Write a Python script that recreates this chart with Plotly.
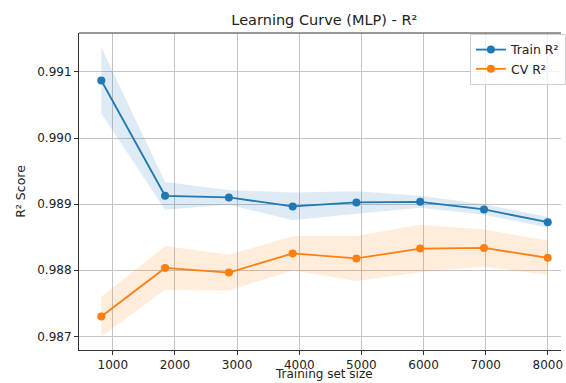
import plotly.graph_objects as go

# Learning-curve results for the MLP regressor
train_sizes = [815, 1841, 2868, 3894, 4920, 5946, 6973, 7999]
train_mean = [0.99087, 0.989126, 0.989102, 0.988965, 0.989026, 0.989035, 0.988919, 0.988726]
train_std = [0.00050, 0.00021, 0.00011, 0.00021, 0.00017, 0.00009, 0.00008, 0.00008]
cv_mean = [0.987299, 0.988035, 0.987965, 0.988254, 0.988178, 0.988328, 0.988337, 0.988188]
cv_std = [0.00030, 0.00033, 0.00027, 0.00026, 0.00034, 0.00036, 0.00028, 0.00026]

x_ticks = [1000, 2000, 3000, 4000, 5000, 6000, 7000, 8000]
y_ticks = [0.987, 0.988, 0.989, 0.990, 0.991]

BLUE = "#1f77b4"
ORANGE = "#ff7f0e"
FONT = "DejaVu Sans"
PLOT_H = 383 - 33 - 33  # height of the plotting area in px


def band(sizes, mean, std):
    upper = [m + s for m, s in zip(mean, std)]
    lower = [m - s for m, s in zip(mean, std)]
    return list(sizes) + list(sizes)[::-1], upper + lower[::-1]


fig = go.Figure()

bx, by = band(train_sizes, train_mean, train_std)
fig.add_trace(go.Scatter(x=bx, y=by, fill="toself", mode="none",
                         fillcolor="rgba(31,119,180,0.15)", showlegend=False, hoverinfo="skip"))
bx, by = band(train_sizes, cv_mean, cv_std)
fig.add_trace(go.Scatter(x=bx, y=by, fill="toself", mode="none",
                         fillcolor="rgba(255,127,14,0.15)", showlegend=False, hoverinfo="skip"))

fig.add_trace(go.Scatter(x=train_sizes, y=train_mean, mode="lines+markers", name="Train R²",
                         line=dict(color=BLUE, width=1.8), marker=dict(size=8, color=BLUE)))
fig.add_trace(go.Scatter(x=train_sizes, y=cv_mean, mode="lines+markers", name="CV R²",
                         line=dict(color=ORANGE, width=1.8), marker=dict(size=8, color=ORANGE)))

axis_common = dict(
    showgrid=True, gridcolor="#c4c4c4", gridwidth=1,
    showline=True, linecolor="#333333", linewidth=1,
    ticks="outside", ticklen=4, tickcolor="#333333", tickwidth=1,
    tickfont=dict(family=FONT, size=12, color="#222222"),
    ticklabeloverflow="allow",
    zeroline=False,
    automargin=False,
)

fig.update_layout(
    width=566, height=383,
    margin=dict(l=79, r=0, t=33, b=33),
    plot_bgcolor="white", paper_bgcolor="white",
    font=dict(family=FONT, color="#222222"),
    title=dict(text="Learning Curve (MLP) - R²", x=0.509, xref="paper", xanchor="center",
               y=1 - 20 / 383, yanchor="middle", font=dict(family=FONT, size=14.5, color="#222222")),
    xaxis=dict(axis_common, range=[456, 8212], tickvals=x_ticks),
    yaxis=dict(axis_common, range=[0.986793, 0.991589], tickvals=y_ticks, tickformat=".3f",
               title=dict(text="R² Score", font=dict(family=FONT, size=12.5), standoff=8)),
    legend=dict(x=0.811, y=0.997, xanchor="left", yanchor="top",
                bgcolor="rgba(255,255,255,0.8)", bordercolor="#d0d0d0", borderwidth=1,
                font=dict(family=FONT, size=12.5, color="#222222"), tracegroupgap=0,
                itemwidth=30),
    shapes=[dict(type="line", xref="paper", yref="paper", x0=0, x1=1, y0=1, y1=1,
                 line=dict(color="#333333", width=1))],
    annotations=[dict(text="Training set size", xref="paper", yref="paper",
                      x=0.509, y=-33 / PLOT_H, xanchor="center", yanchor="bottom",
                      showarrow=False, font=dict(family=FONT, size=12, color="#222222"))],
)

fig.write_html("out.html")
